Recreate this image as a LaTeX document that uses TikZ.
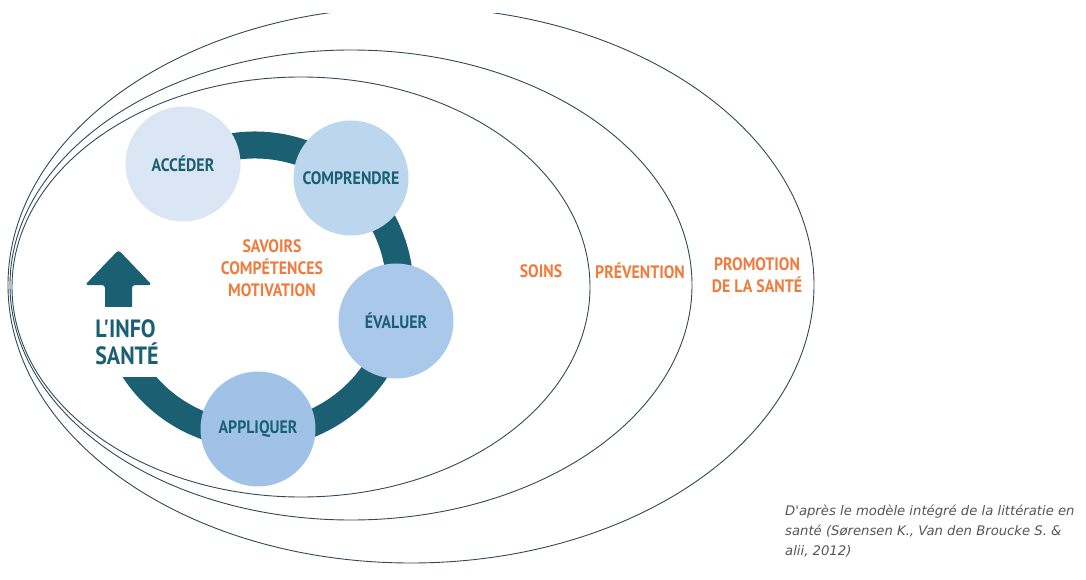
\documentclass[tikz,border=0pt]{standalone}
\usepackage{fontspec}
\setmainfont{PT Sans}
\newfontfamily\labelfont[FakeStretch=0.88]{PT Sans}
\newfontfamily\notefont{DejaVu Sans}
\usepackage{tikz}
\usetikzlibrary{positioning, calc}
\definecolor{ringteal}{HTML}{1B5F73}
\definecolor{linegray}{HTML}{2E4A58}
\definecolor{myorange}{HTML}{EF7B3D}
\definecolor{stepA}{HTML}{DBE6F4}
\definecolor{stepB}{HTML}{BCD6EE}
\definecolor{stepC}{HTML}{A9C8EA}
\definecolor{stepD}{HTML}{A0C2E6}
\definecolor{notegray}{HTML}{555555}
\tikzset{
	stepcircle/.style={
		circle,
		inner sep=0pt,
		minimum size=115pt,
		text=ringteal,
		font=\labelfont\bfseries\fontsize{18}{20}\selectfont
	},
	scope/.style={draw=linegray, line width=0.9pt},
	ring/.style={draw=ringteal, line width=27pt},
	orange/.style={text=myorange, align=center, font=\labelfont\bfseries\fontsize{18}{22}\selectfont}
}

\begin{document}
\begin{tikzpicture}[x=1pt, y=1pt]
	\useasboundingbox (0,0) rectangle (1086,579);
	
	% the three fields
	\begin{scope}
		\clip (0,0) rectangle (1086,565);
		\draw[scope] (301,292) ellipse [x radius=289, y radius=210];
		\draw[scope] (351,294) ellipse [x radius=341, y radius=235];
		\draw[scope] (411,294) ellipse [x radius=403, y radius=278];
	\end{scope}
	
	% cycle
	\coordinate (hub) at (255,289);
	\draw[ring] ([shift={(119.5:145)}]hub) arc[start angle=119.5, end angle=-150, radius=145];
	
	\coordinate (tail) at (118.5,265);
	\coordinate (tip) at (118.5,329);
	\fill[ringteal, rounded corners=3pt] ($(tail)+(-13.5,0)$) -- ($(tail)+(13.5,0)$) -- ($(tail)+(13.5,29)$)
		-- ($(tail)+(33.5,29)$) -- (tip) -- ($(tail)+(-33.5,29)$) -- ($(tail)+(-13.5,29)$) -- cycle;
	
	\node(info) at (127,237) [fill=white, minimum height=70pt, inner xsep=3pt, align=left, text=ringteal,
		font=\labelfont\bfseries\fontsize{25}{27}\selectfont] {L'INFO\\SANTÉ};
	
	\node(acceder) at (183,415) [stepcircle, fill=stepA] {ACCÉDER};
	\node(comprendre) at (351,401) [stepcircle, fill=stepB] {COMPRENDRE};
	\node(evaluer) at (396,258) [stepcircle, fill=stepC] {ÉVALUER};
	\node(appliquer) at (258,150) [stepcircle, fill=stepD] {APPLIQUER};
	
	\node(savoirs) at (272,311) [orange] {SAVOIRS\\COMPÉTENCES\\MOTIVATION};
	\node(soins) at (541,308) [orange] {SOINS};
	\node(prevention) at (640,308) [orange] {PRÉVENTION};
	\node(promotion) at (757,304) [orange] {PROMOTION\\DE LA SANTÉ};
	
	\node(source) at (785,74) [anchor=north west, align=left, inner sep=0pt, text=notegray,
		font=\notefont\itshape\fontsize{13.2}{20}\selectfont]
		{D'après le modèle intégré de la littératie en\\santé (Sørensen K., Van den Broucke S. \&\\alii, 2012)};
\end{tikzpicture}
\end{document}
